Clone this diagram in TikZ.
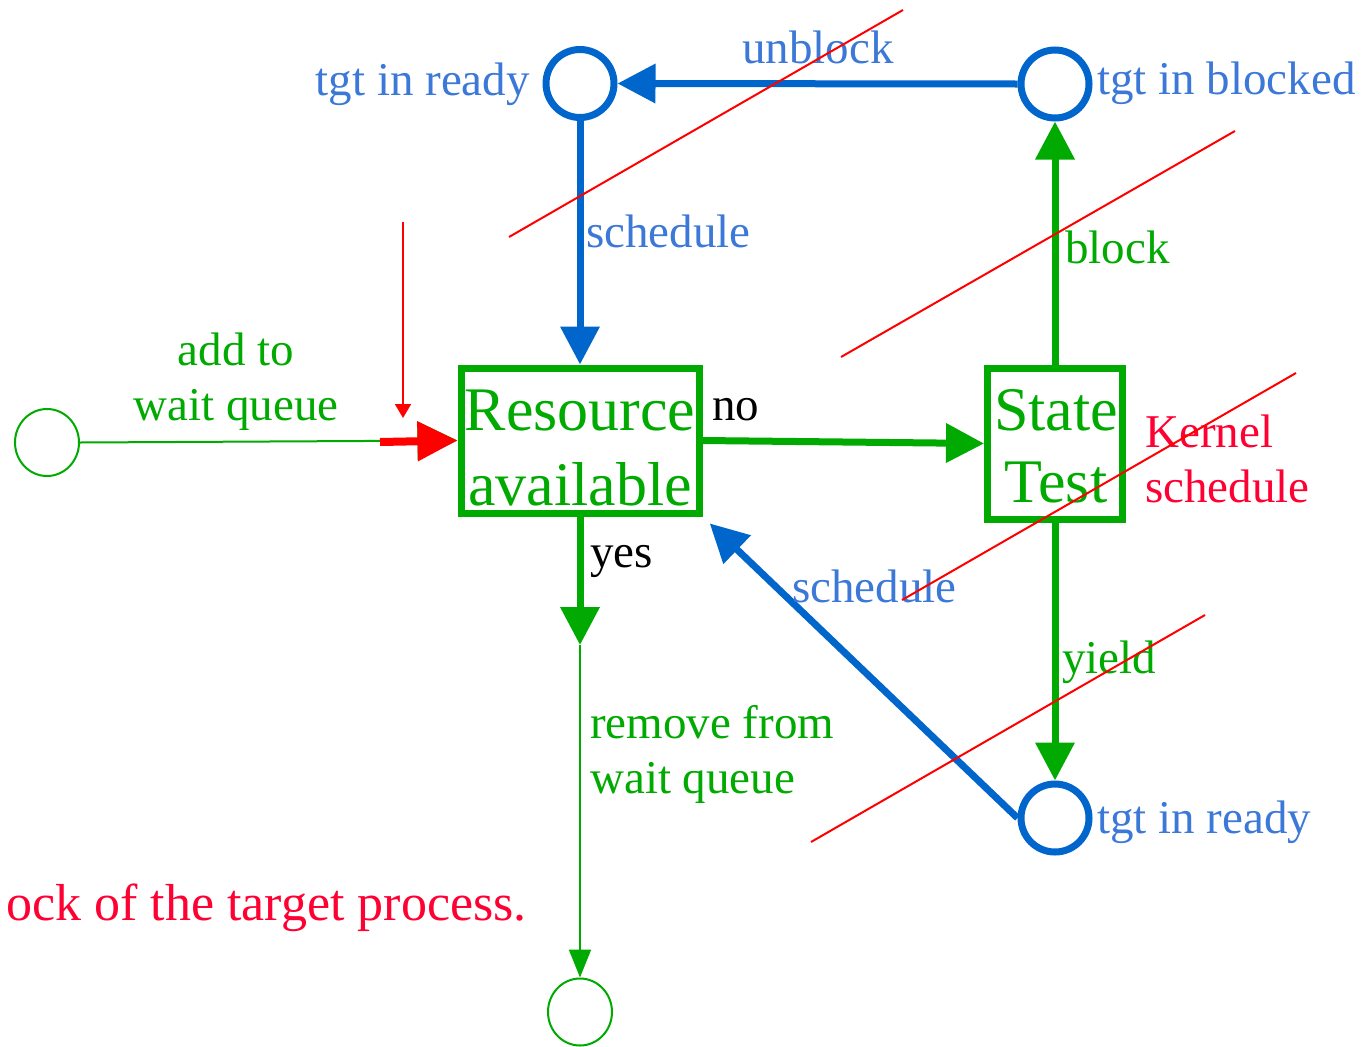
\documentclass[tikz,border=0pt]{standalone}
\usepackage{fontspec}
\setmainfont{Liberation Serif}
\usetikzlibrary{arrows.meta,shapes.geometric}
\definecolor{flowgreen}{RGB}{0,170,0}
\definecolor{flowblue}{RGB}{0,102,204}
\definecolor{textblue}{RGB}{60,120,215}
\definecolor{textred}{RGB}{255,0,51}
\begin{document}
\begin{tikzpicture}[x=1pt,y=-1pt,
  testbox/.style={draw=flowgreen, line width=7pt, rectangle, inner sep=0pt},
  boxtxt/.style={inner sep=0pt, text=flowgreen, align=center, font=\fontsize{62}{75}\selectfont},
  state/.style={draw=flowblue, line width=7pt, circle, minimum size=68pt, inner sep=0pt},
  terminal/.style={draw=flowgreen, line width=2pt, ellipse, minimum width=64pt, minimum height=67pt, inner sep=0pt},
  lbl/.style={inner sep=0pt, font=\fontsize{47}{55}\selectfont},
  bigarrow/.style={line width=7pt, -{Triangle[length=38pt,width=38pt]}},
  thinarrow/.style={line width=2pt, -{Triangle[length=28pt,width=22pt]}},
  cut/.style={draw=red, line width=2pt}]
\useasboundingbox (0,0) rectangle (1366,1047);

% decision boxes (multi-line text is placed by the baseline of its last line)
\node[testbox, minimum width=238pt, minimum height=145pt] (res) at (580,440.5) {};
\node[boxtxt, anchor=base] (restxt) at (580,505) {Resource\\available};
\node[testbox, minimum width=135pt, minimum height=151pt] (st) at (1055,443.5) {};
\node[boxtxt, font=\fontsize{62}{72}\selectfont, anchor=base] (sttxt) at (1056,502) {State\\Test};

% process states
\node[state] (rt) at (580,83.5) {};
\node[state] (blk) at (1055,84) {};
\node[state] (br) at (1055,818) {};

% start and end points
\node[terminal] (lc) at (47,442.5) {};
\node[terminal] (bt) at (580,1012) {};
\coordinate (yestip) at (580,645);
\coordinate (redstart) at (380,442);
\coordinate (marktop) at (403,222);
\coordinate (marktip) at (403,418);

% connectors
\draw[flowgreen, line width=2pt, -{Triangle[length=40pt,width=38pt]}] (lc.east) -- (res.west);
\draw[red, line width=8pt, -{Triangle[length=40pt,width=38pt]}] (redstart) -- (res.west);
\draw[red, line width=2pt, -{Triangle[length=14pt,width=16pt]}] (marktop) -- (marktip);
\draw[flowgreen, bigarrow] (res.east) -- (st.west);
\draw[flowgreen, bigarrow] (st.north) -- (blk.south);
\draw[flowgreen, bigarrow] (st.south) -- (br.north);
\draw[flowblue, bigarrow] (blk.west) -- (rt.east);
\draw[flowblue, bigarrow] (rt.south) -- (res.north);
\draw[flowblue, bigarrow, shorten >=10pt] (br.west) -- (res.south east);
\draw[flowgreen, bigarrow] (res.south) -- (yestip);
\draw[flowgreen, thinarrow] (yestip) -- (bt.north);

% labels
\node[lbl, text=textblue, anchor=base east] (lrt) at (530,95) {tgt in ready};
\node[lbl, text=textblue, anchor=base] (lub) at (818,63) {unblock};
\node[lbl, text=textblue, anchor=base west] (lblk) at (1097,94) {tgt in blocked};
\node[lbl, text=textblue, anchor=base west] (lsch1) at (586,247) {schedule};
\node[lbl, text=flowgreen, anchor=base west] (lblock) at (1065,263) {block};
\node[lbl, text=flowgreen, align=center, anchor=base] (ladd) at (236,420) {add to\\wait queue};
\node[lbl, anchor=base west] (lno) at (712,420) {no};
\node[lbl, anchor=base west] (lyes) at (590,567) {yes};
\node[lbl, text=textred, align=left, anchor=base west] (lker) at (1145,502) {Kernel\\schedule};
\node[lbl, text=textblue, anchor=base west] (lsch2) at (792,602) {schedule};
\node[lbl, text=flowgreen, anchor=base west] (lyield) at (1062,673) {yield};
\node[lbl, text=flowgreen, align=left, anchor=base west] (lrem) at (590,793) {remove from\\wait queue};
\node[lbl, text=textblue, anchor=base west] (lbr) at (1097,833) {tgt in ready};
\node[lbl, text=textred, font=\fontsize{52}{60}\selectfont, anchor=base east] (lnote) at (527,920) {ock of the target process.};

% strike-through lines
\draw[cut] (509,237) -- (903,10);
\draw[cut] (841,357) -- (1235,131);
\draw[cut] (902,600) -- (1296,373);
\draw[cut] (811,842) -- (1205,615);
\end{tikzpicture}
\end{document}
